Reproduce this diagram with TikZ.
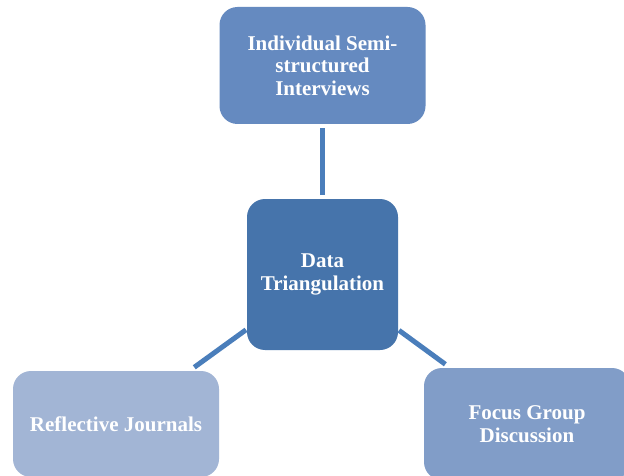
\documentclass[tikz,border=0pt]{standalone}
\usepackage{fontspec}
\setmainfont{Liberation Serif}
\definecolor{topblue}{HTML}{658AC0}
\definecolor{midblue}{HTML}{4674AB}
\definecolor{leftblue}{HTML}{A2B5D5}
\definecolor{rightblue}{HTML}{819DC8}
\definecolor{linkblue}{HTML}{4A7EBB}

\begin{document}
\begin{tikzpicture}[x=1pt,y=-1pt,
  box/.style={rectangle, rounded corners=18pt, draw=none, text=white,
    font=\bfseries\fontsize{21}{22.5}\selectfont, align=center, inner sep=0pt},
  link/.style={draw=linkblue, line width=5pt}]
  \clip (0,0) rectangle (624,476);
  \fill[white] (0,0) rectangle (624,476);

  \node [box, fill=midblue, minimum width=151pt, minimum height=151pt] (data) at (322.5,274.5) {Data\\Triangulation};
  \node [box, fill=topblue, minimum width=206pt, minimum height=117pt] (interviews) at (322.5,65.5) {Individual Semi-\\structured\\Interviews};
  \node [box, fill=leftblue, minimum width=206pt, minimum height=106pt] (journals) at (116,424) {Reflective Journals};
  \node [box, fill=rightblue, minimum width=206pt, minimum height=112pt] (focus) at (527,424) {Focus Group\\Discussion};

  \draw [link, shorten <=4pt, shorten >=4pt] (interviews) -- (data);
  \draw [link, shorten <=1pt, shorten >=6pt] (data) -- (journals);
  \draw [link, shorten <=1pt, shorten >=6pt] (data) -- (focus);
\end{tikzpicture}
\end{document}
